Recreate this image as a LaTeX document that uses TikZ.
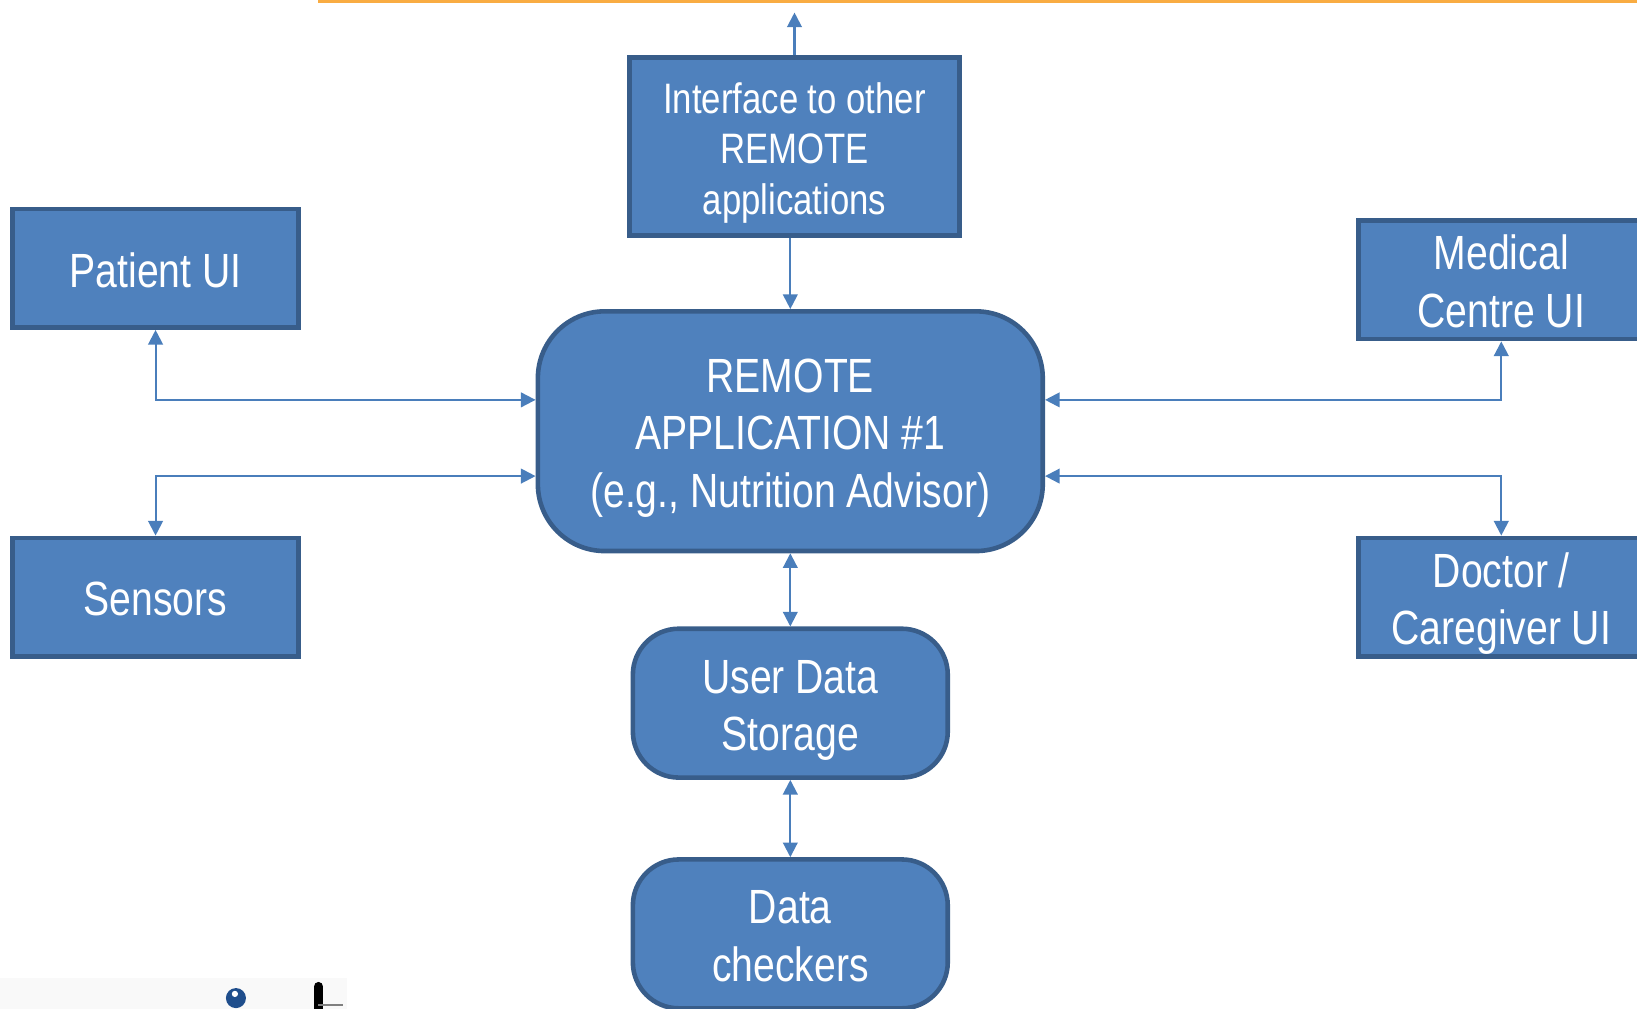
\documentclass[tikz,border=0pt]{standalone}
\usepackage{fontspec}
\setmainfont{Liberation Sans}[FakeStretch=0.815]
\usetikzlibrary{arrows.meta}
\definecolor{boxfill}{HTML}{4F81BD}
\definecolor{boxline}{HTML}{385D8A}
\definecolor{conn}{HTML}{4A7EBB}
\definecolor{topline}{HTML}{F9AC42}
\definecolor{logoblue}{HTML}{1F4E8C}
\begin{document}
\begin{tikzpicture}[x=0.5pt,y=-0.5pt,
  box/.style={draw=boxline, fill=boxfill, line width=2.2pt, text=white, align=center, inner sep=0pt,
    font=\fontsize{23}{27.5}\selectfont, text height=18pt, text depth=0pt},
  twolines/.style={text height=45.5pt},
  threelines/.style={text height=73pt},
  sqbox/.style={box, minimum width=136.8pt, minimum height=56.8pt},
  rbox/.style={box, rounded corners=22pt, minimum width=150.8pt, minimum height=71.3pt},
  tip/.tip={Triangle[length=7pt,width=7pt]},
  uni/.style={draw=conn, line width=1pt, -tip},
  bi/.style={draw=conn, line width=1pt, tip-tip},
  ]
\useasboundingbox (0,0) rectangle (1568,966);
\clip (0,0) rectangle (1568,966);

% top rule and logo fragments
\draw[topline, line width=1.6pt] (305,1) -- (1568,1);
\fill[gray!5] (0,937) rectangle (332,966);
\fill[logoblue] (226,956) circle (4.8pt);
\fill[white] (225,952) circle (1.5pt);
\draw[black, line width=4.5pt, line cap=round] (305,945) -- (305,975);
\draw[gray, line width=1pt] (305,963) -- (329,963);

% nodes
\node[box, minimum width=157.8pt, minimum height=85.3pt, font=\fontsize{20.4}{24.3}\selectfont, text height=65pt] (int) at (761,140.5) {Interface to other\\REMOTE\\applications};
\node[sqbox] (pat) at (149,257) {Patient UI};
\node[sqbox] (sen) at (149,572) {Sensors};
\node[sqbox, twolines] (med) at (1438,268) {Medical\\Centre UI};
\node[sqbox, twolines] (doc) at (1438,572) {Doctor /\\Caregiver UI};
\node[box, threelines, rounded corners=32pt, minimum width=241.8pt, minimum height=114.8pt] (app) at (757,413) {REMOTE\\APPLICATION \#1\\(e.g., Nutrition Advisor)};
\node[rbox, twolines] (uds) at (757,673.5) {User Data\\Storage};
\node[rbox, twolines] (dc) at (757,894.5) {Data\\checkers};

\coordinate (up) at (761,12);
\coordinate (yA) at (0,383);
\coordinate (yB) at (0,456);

% connectors
\draw[uni] (int.north) -- (up);
\draw[uni] (int.south -| app.north) -- (app.north);
\draw[bi] (pat.south) |- (app.west |- yA);
\draw[bi] (sen.north) |- (app.west |- yB);
\draw[bi] (med.south) |- (app.east |- yA);
\draw[bi] (doc.north) |- (app.east |- yB);
\draw[bi] (app.south) -- (uds.north);
\draw[bi] (uds.south) -- (dc.north);
\end{tikzpicture}
\end{document}
